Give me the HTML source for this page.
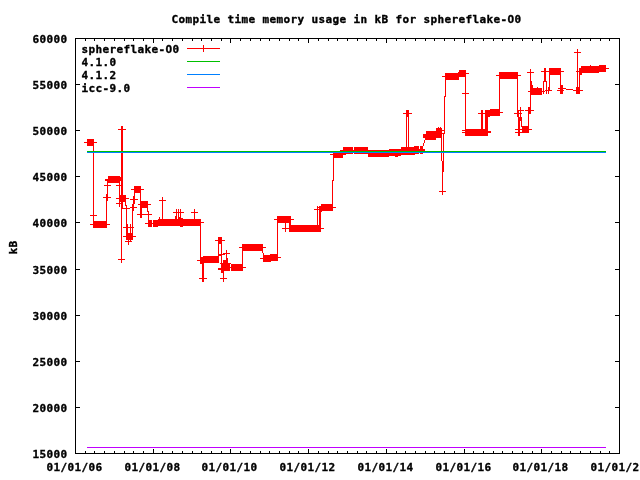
<!DOCTYPE html><html><head><meta charset="utf-8"><title>Compile time memory usage in kB for sphereflake-O0</title><style>
html,body{margin:0;padding:0;background:#fff;}
#c{position:relative;width:640px;height:480px;overflow:hidden;background:#fff;}
svg{position:absolute;left:0;top:0;}
.t{position:absolute;font-family:"DejaVu Sans Mono","Liberation Mono",monospace;font-weight:bold;font-size:11px;line-height:13px;height:13px;white-space:pre;color:#000;letter-spacing:0.377px;-webkit-text-stroke:0.35px #000;}
</style></head><body><div id="c"><svg width="640" height="480" viewBox="0 0 640 480" shape-rendering="crispEdges"><rect x="75" y="38" width="545" height="1" fill="#000"/><rect x="75" y="453" width="545" height="1" fill="#000"/><rect x="75" y="38" width="1" height="416" fill="#000"/><rect x="619" y="38" width="1" height="416" fill="#000"/><rect x="75" y="38" width="5" height="1" fill="#000"/><rect x="615" y="38" width="5" height="1" fill="#000"/><rect x="75" y="84" width="5" height="1" fill="#000"/><rect x="615" y="84" width="5" height="1" fill="#000"/><rect x="75" y="130" width="5" height="1" fill="#000"/><rect x="615" y="130" width="5" height="1" fill="#000"/><rect x="75" y="176" width="5" height="1" fill="#000"/><rect x="615" y="176" width="5" height="1" fill="#000"/><rect x="75" y="222" width="5" height="1" fill="#000"/><rect x="615" y="222" width="5" height="1" fill="#000"/><rect x="75" y="269" width="5" height="1" fill="#000"/><rect x="615" y="269" width="5" height="1" fill="#000"/><rect x="75" y="315" width="5" height="1" fill="#000"/><rect x="615" y="315" width="5" height="1" fill="#000"/><rect x="75" y="361" width="5" height="1" fill="#000"/><rect x="615" y="361" width="5" height="1" fill="#000"/><rect x="75" y="407" width="5" height="1" fill="#000"/><rect x="615" y="407" width="5" height="1" fill="#000"/><rect x="75" y="453" width="5" height="1" fill="#000"/><rect x="615" y="453" width="5" height="1" fill="#000"/><rect x="75" y="38" width="1" height="5" fill="#000"/><rect x="75" y="449" width="1" height="5" fill="#000"/><rect x="85" y="38" width="1" height="3" fill="#000"/><rect x="85" y="451" width="1" height="3" fill="#000"/><rect x="94" y="38" width="1" height="3" fill="#000"/><rect x="94" y="451" width="1" height="3" fill="#000"/><rect x="104" y="38" width="1" height="3" fill="#000"/><rect x="104" y="451" width="1" height="3" fill="#000"/><rect x="114" y="38" width="1" height="3" fill="#000"/><rect x="114" y="451" width="1" height="3" fill="#000"/><rect x="124" y="38" width="1" height="3" fill="#000"/><rect x="124" y="451" width="1" height="3" fill="#000"/><rect x="133" y="38" width="1" height="3" fill="#000"/><rect x="133" y="451" width="1" height="3" fill="#000"/><rect x="143" y="38" width="1" height="3" fill="#000"/><rect x="143" y="451" width="1" height="3" fill="#000"/><rect x="153" y="38" width="1" height="5" fill="#000"/><rect x="153" y="449" width="1" height="5" fill="#000"/><rect x="162" y="38" width="1" height="3" fill="#000"/><rect x="162" y="451" width="1" height="3" fill="#000"/><rect x="172" y="38" width="1" height="3" fill="#000"/><rect x="172" y="451" width="1" height="3" fill="#000"/><rect x="182" y="38" width="1" height="3" fill="#000"/><rect x="182" y="451" width="1" height="3" fill="#000"/><rect x="192" y="38" width="1" height="3" fill="#000"/><rect x="192" y="451" width="1" height="3" fill="#000"/><rect x="201" y="38" width="1" height="3" fill="#000"/><rect x="201" y="451" width="1" height="3" fill="#000"/><rect x="211" y="38" width="1" height="3" fill="#000"/><rect x="211" y="451" width="1" height="3" fill="#000"/><rect x="221" y="38" width="1" height="3" fill="#000"/><rect x="221" y="451" width="1" height="3" fill="#000"/><rect x="230" y="38" width="1" height="5" fill="#000"/><rect x="230" y="449" width="1" height="5" fill="#000"/><rect x="240" y="38" width="1" height="3" fill="#000"/><rect x="240" y="451" width="1" height="3" fill="#000"/><rect x="250" y="38" width="1" height="3" fill="#000"/><rect x="250" y="451" width="1" height="3" fill="#000"/><rect x="260" y="38" width="1" height="3" fill="#000"/><rect x="260" y="451" width="1" height="3" fill="#000"/><rect x="269" y="38" width="1" height="3" fill="#000"/><rect x="269" y="451" width="1" height="3" fill="#000"/><rect x="279" y="38" width="1" height="3" fill="#000"/><rect x="279" y="451" width="1" height="3" fill="#000"/><rect x="289" y="38" width="1" height="3" fill="#000"/><rect x="289" y="451" width="1" height="3" fill="#000"/><rect x="298" y="38" width="1" height="3" fill="#000"/><rect x="298" y="451" width="1" height="3" fill="#000"/><rect x="308" y="38" width="1" height="5" fill="#000"/><rect x="308" y="449" width="1" height="5" fill="#000"/><rect x="318" y="38" width="1" height="3" fill="#000"/><rect x="318" y="451" width="1" height="3" fill="#000"/><rect x="328" y="38" width="1" height="3" fill="#000"/><rect x="328" y="451" width="1" height="3" fill="#000"/><rect x="337" y="38" width="1" height="3" fill="#000"/><rect x="337" y="451" width="1" height="3" fill="#000"/><rect x="347" y="38" width="1" height="3" fill="#000"/><rect x="347" y="451" width="1" height="3" fill="#000"/><rect x="357" y="38" width="1" height="3" fill="#000"/><rect x="357" y="451" width="1" height="3" fill="#000"/><rect x="366" y="38" width="1" height="3" fill="#000"/><rect x="366" y="451" width="1" height="3" fill="#000"/><rect x="376" y="38" width="1" height="3" fill="#000"/><rect x="376" y="451" width="1" height="3" fill="#000"/><rect x="386" y="38" width="1" height="5" fill="#000"/><rect x="386" y="449" width="1" height="5" fill="#000"/><rect x="396" y="38" width="1" height="3" fill="#000"/><rect x="396" y="451" width="1" height="3" fill="#000"/><rect x="405" y="38" width="1" height="3" fill="#000"/><rect x="405" y="451" width="1" height="3" fill="#000"/><rect x="415" y="38" width="1" height="3" fill="#000"/><rect x="415" y="451" width="1" height="3" fill="#000"/><rect x="425" y="38" width="1" height="3" fill="#000"/><rect x="425" y="451" width="1" height="3" fill="#000"/><rect x="434" y="38" width="1" height="3" fill="#000"/><rect x="434" y="451" width="1" height="3" fill="#000"/><rect x="444" y="38" width="1" height="3" fill="#000"/><rect x="444" y="451" width="1" height="3" fill="#000"/><rect x="454" y="38" width="1" height="3" fill="#000"/><rect x="454" y="451" width="1" height="3" fill="#000"/><rect x="464" y="38" width="1" height="5" fill="#000"/><rect x="464" y="449" width="1" height="5" fill="#000"/><rect x="473" y="38" width="1" height="3" fill="#000"/><rect x="473" y="451" width="1" height="3" fill="#000"/><rect x="483" y="38" width="1" height="3" fill="#000"/><rect x="483" y="451" width="1" height="3" fill="#000"/><rect x="493" y="38" width="1" height="3" fill="#000"/><rect x="493" y="451" width="1" height="3" fill="#000"/><rect x="502" y="38" width="1" height="3" fill="#000"/><rect x="502" y="451" width="1" height="3" fill="#000"/><rect x="512" y="38" width="1" height="3" fill="#000"/><rect x="512" y="451" width="1" height="3" fill="#000"/><rect x="522" y="38" width="1" height="3" fill="#000"/><rect x="522" y="451" width="1" height="3" fill="#000"/><rect x="532" y="38" width="1" height="3" fill="#000"/><rect x="532" y="451" width="1" height="3" fill="#000"/><rect x="541" y="38" width="1" height="5" fill="#000"/><rect x="541" y="449" width="1" height="5" fill="#000"/><rect x="551" y="38" width="1" height="3" fill="#000"/><rect x="551" y="451" width="1" height="3" fill="#000"/><rect x="561" y="38" width="1" height="3" fill="#000"/><rect x="561" y="451" width="1" height="3" fill="#000"/><rect x="570" y="38" width="1" height="3" fill="#000"/><rect x="570" y="451" width="1" height="3" fill="#000"/><rect x="580" y="38" width="1" height="3" fill="#000"/><rect x="580" y="451" width="1" height="3" fill="#000"/><rect x="590" y="38" width="1" height="3" fill="#000"/><rect x="590" y="451" width="1" height="3" fill="#000"/><rect x="600" y="38" width="1" height="3" fill="#000"/><rect x="600" y="451" width="1" height="3" fill="#000"/><rect x="609" y="38" width="1" height="3" fill="#000"/><rect x="609" y="451" width="1" height="3" fill="#000"/><rect x="619" y="38" width="1" height="5" fill="#000"/><rect x="619" y="449" width="1" height="5" fill="#000"/><rect x="87" y="139" width="7" height="7" fill="#f00"/><rect x="84" y="142" width="13" height="1" fill="#f00"/><rect x="93" y="142" width="1" height="83" fill="#f00"/><rect x="90" y="215" width="7" height="1" fill="#f00"/><rect x="93" y="212" width="1" height="7" fill="#f00"/><rect x="93" y="221" width="14" height="7" fill="#f00"/><rect x="90" y="224" width="20" height="1" fill="#f00"/><rect x="107" y="180" width="1" height="16" fill="#f00"/><rect x="106" y="195" width="1" height="30" fill="#f00"/><rect x="103" y="197" width="7" height="1" fill="#f00"/><rect x="106" y="194" width="1" height="7" fill="#f00"/><rect x="104" y="197" width="7" height="1" fill="#f00"/><rect x="107" y="194" width="1" height="7" fill="#f00"/><rect x="104" y="185" width="7" height="1" fill="#f00"/><rect x="107" y="182" width="1" height="7" fill="#f00"/><rect x="105" y="179" width="3" height="2" fill="#f00"/><rect x="108" y="176" width="12" height="7" fill="#f00"/><rect x="108" y="179" width="12" height="1" fill="#f00"/><rect x="120" y="177" width="1" height="4" fill="#f00"/><rect x="107" y="181" width="1" height="2" fill="#f00"/><rect x="116" y="185" width="7" height="1" fill="#f00"/><rect x="119" y="182" width="1" height="7" fill="#f00"/><rect x="121" y="126" width="1" height="134" fill="#f00"/><rect x="122" y="126" width="1" height="83" fill="#f00"/><rect x="118" y="129" width="7" height="1" fill="#f00"/><rect x="121" y="126" width="1" height="7" fill="#f00"/><rect x="119" y="129" width="7" height="1" fill="#f00"/><rect x="122" y="126" width="1" height="7" fill="#f00"/><rect x="118" y="259" width="7" height="1" fill="#f00"/><rect x="121" y="256" width="1" height="7" fill="#f00"/><rect x="119" y="182" width="1" height="22" fill="#f00"/><rect x="119" y="195" width="7" height="7" fill="#f00"/><rect x="116" y="198" width="13" height="1" fill="#f00"/><rect x="116" y="203" width="7" height="1" fill="#f00"/><rect x="119" y="200" width="1" height="7" fill="#f00"/><rect x="125" y="198" width="1" height="8" fill="#f00"/><rect x="126" y="205" width="1" height="34" fill="#f00"/><rect x="122" y="208" width="8" height="1" fill="#f00"/><rect x="127" y="224" width="1" height="10" fill="#f00"/><rect x="130" y="224" width="1" height="17" fill="#f00"/><rect x="132" y="207" width="1" height="32" fill="#f00"/><rect x="123" y="227" width="7" height="1" fill="#f00"/><rect x="126" y="224" width="1" height="7" fill="#f00"/><rect x="127" y="227" width="7" height="1" fill="#f00"/><rect x="130" y="224" width="1" height="7" fill="#f00"/><rect x="126" y="233" width="7" height="7" fill="#f00"/><rect x="123" y="236" width="13" height="1" fill="#f00"/><rect x="125" y="241" width="7" height="1" fill="#f00"/><rect x="128" y="238" width="1" height="7" fill="#f00"/><rect x="130" y="207" width="7" height="1" fill="#f00"/><rect x="133" y="204" width="1" height="7" fill="#f00"/><rect x="132" y="204" width="1" height="7" fill="#f00"/><rect x="130" y="199" width="7" height="1" fill="#f00"/><rect x="133" y="196" width="1" height="7" fill="#f00"/><rect x="131" y="199" width="7" height="1" fill="#f00"/><rect x="134" y="196" width="1" height="7" fill="#f00"/><rect x="133" y="196" width="1" height="8" fill="#f00"/><rect x="134" y="189" width="1" height="15" fill="#f00"/><rect x="134" y="186" width="7" height="7" fill="#f00"/><rect x="131" y="189" width="13" height="1" fill="#f00"/><rect x="140" y="189" width="1" height="29" fill="#f00"/><rect x="141" y="208" width="1" height="10" fill="#f00"/><rect x="141" y="201" width="7" height="7" fill="#f00"/><rect x="138" y="204" width="13" height="1" fill="#f00"/><rect x="137" y="214" width="7" height="1" fill="#f00"/><rect x="140" y="211" width="1" height="7" fill="#f00"/><rect x="138" y="214" width="7" height="1" fill="#f00"/><rect x="141" y="211" width="1" height="7" fill="#f00"/><rect x="145" y="214" width="7" height="1" fill="#f00"/><rect x="148" y="211" width="1" height="7" fill="#f00"/><rect x="147" y="204" width="1" height="8" fill="#f00"/><rect x="148" y="211" width="1" height="13" fill="#f00"/><rect x="148" y="220" width="4" height="7" fill="#f00"/><rect x="145" y="223" width="10" height="1" fill="#f00"/><rect x="153" y="220" width="5" height="7" fill="#f00"/><rect x="150" y="223" width="11" height="1" fill="#f00"/><rect x="158" y="219" width="43" height="7" fill="#f00"/><rect x="155" y="222" width="49" height="1" fill="#f00"/><rect x="180" y="226" width="3" height="1" fill="#f00"/><rect x="156" y="220" width="7" height="1" fill="#f00"/><rect x="159" y="217" width="1" height="7" fill="#f00"/><rect x="175" y="216" width="1" height="3" fill="#f00"/><rect x="179" y="217" width="1" height="2" fill="#f00"/><rect x="181" y="218" width="2" height="1" fill="#f00"/><rect x="159" y="200" width="7" height="1" fill="#f00"/><rect x="162" y="197" width="1" height="7" fill="#f00"/><rect x="162" y="200" width="1" height="23" fill="#f00"/><rect x="173" y="212" width="7" height="1" fill="#f00"/><rect x="176" y="209" width="1" height="7" fill="#f00"/><rect x="175" y="212" width="7" height="1" fill="#f00"/><rect x="178" y="209" width="1" height="7" fill="#f00"/><rect x="177" y="212" width="7" height="1" fill="#f00"/><rect x="180" y="209" width="1" height="7" fill="#f00"/><rect x="176" y="212" width="1" height="11" fill="#f00"/><rect x="178" y="212" width="1" height="11" fill="#f00"/><rect x="180" y="212" width="1" height="11" fill="#f00"/><rect x="191" y="212" width="7" height="1" fill="#f00"/><rect x="194" y="209" width="1" height="7" fill="#f00"/><rect x="194" y="212" width="1" height="11" fill="#f00"/><rect x="200" y="222" width="1" height="39" fill="#f00"/><rect x="203" y="256" width="16" height="7" fill="#f00"/><rect x="203" y="259" width="16" height="1" fill="#f00"/><rect x="200" y="257" width="3" height="7" fill="#f00"/><rect x="197" y="260" width="4" height="1" fill="#f00"/><rect x="202" y="260" width="1" height="22" fill="#f00"/><rect x="203" y="260" width="1" height="22" fill="#f00"/><rect x="199" y="278" width="7" height="1" fill="#f00"/><rect x="202" y="275" width="1" height="7" fill="#f00"/><rect x="200" y="278" width="7" height="1" fill="#f00"/><rect x="203" y="275" width="1" height="7" fill="#f00"/><rect x="218" y="240" width="1" height="20" fill="#f00"/><rect x="218" y="237" width="4" height="7" fill="#f00"/><rect x="215" y="240" width="10" height="1" fill="#f00"/><rect x="221" y="240" width="1" height="33" fill="#f00"/><rect x="218" y="255" width="4" height="1" fill="#f00"/><rect x="218" y="254" width="7" height="1" fill="#f00"/><rect x="223" y="253" width="7" height="1" fill="#f00"/><rect x="226" y="250" width="1" height="7" fill="#f00"/><rect x="226" y="250" width="1" height="10" fill="#f00"/><rect x="221" y="264" width="9" height="7" fill="#f00"/><rect x="223" y="260" width="5" height="4" fill="#f00"/><rect x="226" y="258" width="2" height="2" fill="#f00"/><rect x="220" y="263" width="11" height="1" fill="#f00"/><rect x="218" y="268" width="3" height="2" fill="#f00"/><rect x="221" y="271" width="3" height="2" fill="#f00"/><rect x="220" y="278" width="7" height="1" fill="#f00"/><rect x="223" y="275" width="1" height="7" fill="#f00"/><rect x="223" y="267" width="1" height="15" fill="#f00"/><rect x="231" y="264" width="12" height="7" fill="#f00"/><rect x="230" y="267" width="16" height="1" fill="#f00"/><rect x="242" y="247" width="1" height="21" fill="#f00"/><rect x="242" y="244" width="21" height="7" fill="#f00"/><rect x="239" y="247" width="27" height="1" fill="#f00"/><rect x="262" y="251" width="1" height="2" fill="#f00"/><rect x="263" y="253" width="1" height="2" fill="#f00"/><rect x="263" y="255" width="8" height="7" fill="#f00"/><rect x="260" y="258" width="11" height="1" fill="#f00"/><rect x="270" y="254" width="8" height="7" fill="#f00"/><rect x="270" y="257" width="11" height="1" fill="#f00"/><rect x="277" y="219" width="1" height="39" fill="#f00"/><rect x="277" y="216" width="14" height="7" fill="#f00"/><rect x="274" y="219" width="20" height="1" fill="#f00"/><rect x="282" y="228" width="7" height="1" fill="#f00"/><rect x="285" y="225" width="1" height="7" fill="#f00"/><rect x="285" y="222" width="1" height="10" fill="#f00"/><rect x="289" y="219" width="1" height="10" fill="#f00"/><rect x="290" y="219" width="1" height="10" fill="#f00"/><rect x="289" y="225" width="32" height="7" fill="#f00"/><rect x="286" y="228" width="38" height="1" fill="#f00"/><rect x="317" y="206" width="1" height="23" fill="#f00"/><rect x="319" y="206" width="1" height="23" fill="#f00"/><rect x="320" y="206" width="1" height="23" fill="#f00"/><rect x="314" y="209" width="7" height="1" fill="#f00"/><rect x="317" y="206" width="1" height="7" fill="#f00"/><rect x="321" y="204" width="12" height="7" fill="#f00"/><rect x="318" y="207" width="18" height="1" fill="#f00"/><rect x="321" y="211" width="1" height="1" fill="#f00"/><rect x="332" y="180" width="1" height="28" fill="#f00"/><rect x="333" y="154" width="1" height="27" fill="#f00"/><rect x="333" y="151" width="10" height="7" fill="#f00"/><rect x="330" y="154" width="16" height="1" fill="#f00"/><rect x="340" y="150" width="3" height="4" fill="#f00"/><rect x="343" y="151" width="3" height="4" fill="#f00"/><rect x="343" y="147" width="10" height="7" fill="#f00"/><rect x="340" y="150" width="16" height="1" fill="#f00"/><rect x="354" y="147" width="14" height="7" fill="#f00"/><rect x="351" y="150" width="20" height="1" fill="#f00"/><rect x="368" y="150" width="21" height="7" fill="#f00"/><rect x="368" y="153" width="21" height="1" fill="#f00"/><rect x="389" y="149" width="12" height="7" fill="#f00"/><rect x="395" y="156" width="3" height="1" fill="#f00"/><rect x="401" y="147" width="14" height="8" fill="#f00"/><rect x="414" y="146" width="5" height="8" fill="#f00"/><rect x="419" y="149" width="1" height="4" fill="#f00"/><rect x="420" y="146" width="3" height="8" fill="#f00"/><rect x="422" y="149" width="3" height="2" fill="#f00"/><rect x="423" y="143" width="1" height="3" fill="#f00"/><rect x="424" y="140" width="1" height="3" fill="#f00"/><rect x="425" y="138" width="1" height="2" fill="#f00"/><rect x="406" y="110" width="1" height="41" fill="#f00"/><rect x="408" y="110" width="1" height="41" fill="#f00"/><rect x="406" y="110" width="3" height="7" fill="#f00"/><rect x="403" y="113" width="9" height="1" fill="#f00"/><rect x="423" y="134" width="3" height="4" fill="#f00"/><rect x="426" y="131" width="10" height="9" fill="#f00"/><rect x="436" y="128" width="6" height="10" fill="#f00"/><rect x="438" y="127" width="1" height="1" fill="#f00"/><rect x="440" y="127" width="1" height="1" fill="#f00"/><rect x="442" y="130" width="3" height="1" fill="#f00"/><rect x="442" y="133" width="3" height="1" fill="#f00"/><rect x="441" y="133" width="1" height="28" fill="#f00"/><rect x="443" y="134" width="1" height="38" fill="#f00"/><rect x="442" y="161" width="1" height="31" fill="#f00"/><rect x="439" y="191" width="7" height="1" fill="#f00"/><rect x="442" y="188" width="1" height="7" fill="#f00"/><rect x="444" y="96" width="1" height="38" fill="#f00"/><rect x="445" y="76" width="1" height="21" fill="#f00"/><rect x="445" y="73" width="14" height="7" fill="#f00"/><rect x="442" y="76" width="17" height="1" fill="#f00"/><rect x="459" y="70" width="7" height="7" fill="#f00"/><rect x="459" y="73" width="10" height="1" fill="#f00"/><rect x="458" y="72" width="1" height="2" fill="#f00"/><rect x="465" y="73" width="1" height="58" fill="#f00"/><rect x="462" y="93" width="7" height="1" fill="#f00"/><rect x="465" y="90" width="1" height="7" fill="#f00"/><rect x="465" y="129" width="23" height="7" fill="#f00"/><rect x="462" y="132" width="29" height="1" fill="#f00"/><rect x="462" y="130" width="5" height="1" fill="#f00"/><rect x="488" y="131" width="3" height="1" fill="#f00"/><rect x="481" y="110" width="1" height="21" fill="#f00"/><rect x="482" y="110" width="1" height="21" fill="#f00"/><rect x="485" y="110" width="3" height="20" fill="#f00"/><rect x="478" y="113" width="7" height="1" fill="#f00"/><rect x="481" y="110" width="1" height="7" fill="#f00"/><rect x="485" y="110" width="5" height="7" fill="#f00"/><rect x="485" y="113" width="5" height="1" fill="#f00"/><rect x="490" y="109" width="10" height="7" fill="#f00"/><rect x="490" y="112" width="13" height="1" fill="#f00"/><rect x="499" y="75" width="1" height="38" fill="#f00"/><rect x="499" y="72" width="19" height="7" fill="#f00"/><rect x="496" y="75" width="25" height="1" fill="#f00"/><rect x="517" y="75" width="1" height="42" fill="#f00"/><rect x="514" y="113" width="7" height="1" fill="#f00"/><rect x="517" y="110" width="1" height="7" fill="#f00"/><rect x="515" y="113" width="7" height="1" fill="#f00"/><rect x="518" y="110" width="1" height="7" fill="#f00"/><rect x="517" y="110" width="7" height="1" fill="#f00"/><rect x="520" y="107" width="1" height="7" fill="#f00"/><rect x="518" y="113" width="1" height="23" fill="#f00"/><rect x="519" y="117" width="1" height="19" fill="#f00"/><rect x="520" y="110" width="1" height="11" fill="#f00"/><rect x="521" y="117" width="1" height="10" fill="#f00"/><rect x="515" y="129" width="7" height="1" fill="#f00"/><rect x="518" y="126" width="1" height="7" fill="#f00"/><rect x="515" y="132" width="7" height="1" fill="#f00"/><rect x="518" y="129" width="1" height="7" fill="#f00"/><rect x="522" y="126" width="7" height="7" fill="#f00"/><rect x="519" y="129" width="13" height="1" fill="#f00"/><rect x="528" y="107" width="1" height="23" fill="#f00"/><rect x="528" y="107" width="3" height="7" fill="#f00"/><rect x="525" y="110" width="9" height="1" fill="#f00"/><rect x="530" y="69" width="1" height="42" fill="#f00"/><rect x="527" y="72" width="7" height="1" fill="#f00"/><rect x="530" y="69" width="1" height="7" fill="#f00"/><rect x="531" y="81" width="1" height="8" fill="#f00"/><rect x="532" y="85" width="1" height="4" fill="#f00"/><rect x="530" y="88" width="12" height="7" fill="#f00"/><rect x="528" y="91" width="17" height="1" fill="#f00"/><rect x="537" y="87" width="1" height="1" fill="#f00"/><rect x="543" y="81" width="1" height="13" fill="#f00"/><rect x="546" y="81" width="1" height="13" fill="#f00"/><rect x="543" y="81" width="4" height="1" fill="#f00"/><rect x="544" y="68" width="2" height="13" fill="#f00"/><rect x="542" y="71" width="7" height="1" fill="#f00"/><rect x="545" y="68" width="1" height="7" fill="#f00"/><rect x="541" y="71" width="9" height="1" fill="#f00"/><rect x="545" y="90" width="7" height="1" fill="#f00"/><rect x="548" y="87" width="1" height="7" fill="#f00"/><rect x="549" y="74" width="1" height="17" fill="#f00"/><rect x="548" y="87" width="1" height="7" fill="#f00"/><rect x="549" y="68" width="12" height="7" fill="#f00"/><rect x="549" y="71" width="15" height="1" fill="#f00"/><rect x="560" y="71" width="1" height="23" fill="#f00"/><rect x="558" y="88" width="7" height="1" fill="#f00"/><rect x="561" y="85" width="1" height="7" fill="#f00"/><rect x="557" y="90" width="7" height="1" fill="#f00"/><rect x="560" y="87" width="1" height="7" fill="#f00"/><rect x="560" y="85" width="3" height="9" fill="#f00"/><rect x="558" y="88" width="8" height="1" fill="#f00"/><rect x="566" y="89" width="7" height="1" fill="#f00"/><rect x="573" y="90" width="10" height="1" fill="#f00"/><rect x="576" y="87" width="4" height="7" fill="#f00"/><rect x="573" y="90" width="10" height="1" fill="#f00"/><rect x="577" y="49" width="1" height="42" fill="#f00"/><rect x="574" y="52" width="7" height="1" fill="#f00"/><rect x="577" y="49" width="1" height="7" fill="#f00"/><rect x="579" y="70" width="1" height="21" fill="#f00"/><rect x="579" y="68" width="3" height="7" fill="#f00"/><rect x="576" y="71" width="5" height="1" fill="#f00"/><rect x="581" y="66" width="18" height="7" fill="#f00"/><rect x="581" y="69" width="18" height="1" fill="#f00"/><rect x="590" y="65" width="1" height="1" fill="#f00"/><rect x="599" y="65" width="7" height="7" fill="#f00"/><rect x="599" y="68" width="10" height="1" fill="#f00"/><rect x="87" y="151" width="519" height="1" fill="#00c000"/><rect x="87" y="152" width="519" height="1" fill="#0080ff"/><rect x="87" y="447" width="519" height="1" fill="#c000ff"/><rect x="187" y="48" width="33" height="1" fill="#f00"/><rect x="203" y="45" width="1" height="7" fill="#f00"/><rect x="187" y="61" width="33" height="1" fill="#00c000"/><rect x="187" y="74" width="33" height="1" fill="#0080ff"/><rect x="187" y="87" width="33" height="1" fill="#c000ff"/></svg><div class="t" style="left:171.5px;top:13px;width:350px">Compile time memory usage in kB for sphereflake-O0</div><div class="t" style="left:32.5px;top:33px;width:35px">60000</div><div class="t" style="left:32.5px;top:79px;width:35px">55000</div><div class="t" style="left:32.5px;top:125px;width:35px">50000</div><div class="t" style="left:32.5px;top:171px;width:35px">45000</div><div class="t" style="left:32.5px;top:217px;width:35px">40000</div><div class="t" style="left:32.5px;top:264px;width:35px">35000</div><div class="t" style="left:32.5px;top:310px;width:35px">30000</div><div class="t" style="left:32.5px;top:356px;width:35px">25000</div><div class="t" style="left:32.5px;top:402px;width:35px">20000</div><div class="t" style="left:32.5px;top:448px;width:35px">15000</div><div class="t" style="left:46.5px;top:461px;width:56px">01/01/06</div><div class="t" style="left:124.5px;top:461px;width:56px">01/01/08</div><div class="t" style="left:201.5px;top:461px;width:56px">01/01/10</div><div class="t" style="left:279.5px;top:461px;width:56px">01/01/12</div><div class="t" style="left:357.5px;top:461px;width:56px">01/01/14</div><div class="t" style="left:435.5px;top:461px;width:56px">01/01/16</div><div class="t" style="left:512.5px;top:461px;width:56px">01/01/18</div><div class="t" style="left:590.5px;top:461px;width:56px">01/01/20</div><div class="t" style="left:81.5px;top:43px;width:98px">sphereflake-O0</div><div class="t" style="left:81.5px;top:56px;width:35px">4.1.0</div><div class="t" style="left:81.5px;top:69px;width:35px">4.1.2</div><div class="t" style="left:81.5px;top:82px;width:49px">icc-9.0</div><div class="t" style="left:6px;top:241px;width:14px;transform:rotate(-90deg);transform-origin:center center;">kB</div></div></body></html>
